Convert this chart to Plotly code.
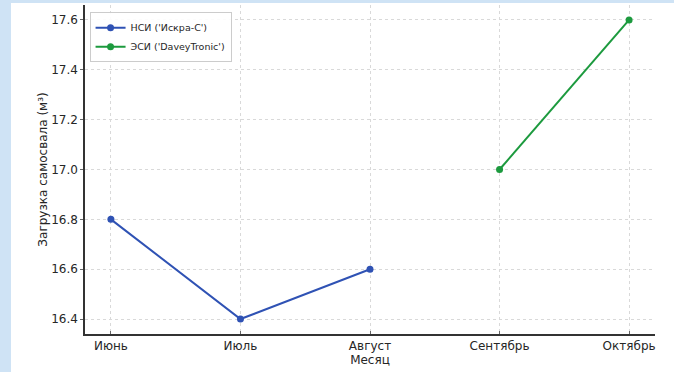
import plotly.graph_objects as go

months = ["Июнь", "Июль", "Август", "Сентябрь", "Октябрь"]

nsi_months = ["Июнь", "Июль", "Август"]
nsi_load = [16.8, 16.4, 16.6]

esi_months = ["Сентябрь", "Октябрь"]
esi_load = [17.0, 17.6]

y_ticks = [16.4, 16.6, 16.8, 17.0, 17.2, 17.4, 17.6]

pos = {m: i for i, m in enumerate(months)}
font_family = "DejaVu Sans, Arial, sans-serif"
text_color = "#262626"

fig = go.Figure()
fig.add_trace(go.Scatter(
    x=[pos[m] for m in nsi_months], y=nsi_load, mode="lines+markers",
    name="НСИ ('Искра-С')",
    line=dict(color="#2f52b4", width=2), marker=dict(size=7, color="#2f52b4"),
))
fig.add_trace(go.Scatter(
    x=[pos[m] for m in esi_months], y=esi_load, mode="lines+markers",
    name="ЭСИ ('DaveyTronic')",
    line=dict(color="#1c9a3e", width=2), marker=dict(size=7, color="#1c9a3e"),
))

# white canvas over a light blue page edge
fig.add_shape(type="rect", xref="paper", yref="paper",
              x0=-0.1298, x1=1.11, y0=-0.12, y1=1.0061,
              fillcolor="white", line=dict(width=0), layer="below")

grid = dict(showgrid=True, gridcolor="#d9d9d9", griddash="dot", gridwidth=1)

fig.update_xaxes(
    range=[-0.2, 4.2], tickvals=list(range(len(months))), ticktext=months,
    showline=True, linecolor="#333333", linewidth=1.5, mirror=False,
    ticks="inside", ticklen=3, tickcolor="#666666",
    title=dict(text="Месяц", font=dict(size=12, color=text_color), standoff=1),
    tickfont=dict(size=12, color=text_color), zeroline=False, **grid,
)
fig.update_yaxes(
    range=[16.34, 17.66], tickvals=y_ticks, ticktext=[f"{v:.1f}" for v in y_ticks],
    showline=True, linecolor="#333333", linewidth=1.5, mirror=False,
    ticks="outside", ticklen=3, tickcolor="#666666",
    title=dict(text="Загрузка самосвала (м³)", font=dict(size=12, color=text_color), standoff=1),
    tickfont=dict(size=12, color=text_color), zeroline=False, **grid,
)

fig.update_layout(
    width=674, height=372,
    margin=dict(l=85, r=19, t=5, b=38),
    paper_bgcolor="#cfe3f5", plot_bgcolor="white",
    font=dict(family=font_family, color=text_color),
    showlegend=True,
    legend=dict(
        x=0.008, y=0.978, xanchor="left", yanchor="top",
        bgcolor="rgba(255,255,255,0.9)", bordercolor="#cccccc", borderwidth=1,
        font=dict(size=9.5, color=text_color), tracegroupgap=0,
        itemwidth=30,
    ),
)

fig.write_html("out.html")
